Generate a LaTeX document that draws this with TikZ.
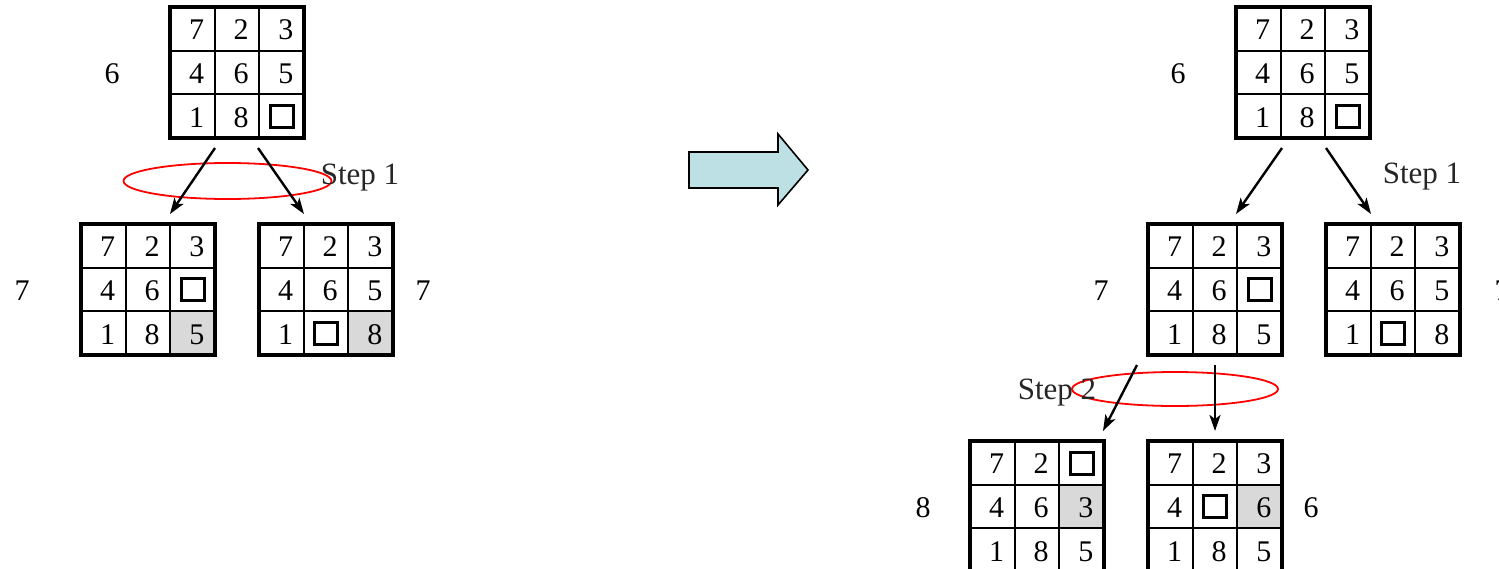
\documentclass[tikz,border=0pt]{standalone}
\usepackage{fontspec}
\setmainfont{Liberation Serif}
\usetikzlibrary{arrows.meta}
\definecolor{cellgray}{RGB}{217,217,217}
\definecolor{bigarrow}{RGB}{188,224,227}
\tikzset{
  boardframe/.style={rectangle, draw=none, minimum width=134pt, minimum height=131pt, inner sep=0pt},
  digit/.style={inner sep=0pt, font=\fontsize{30}{34}\selectfont},
  blank/.style={draw, line width=3pt, minimum width=23pt, minimum height=22pt, inner sep=0pt},
  innerline/.style={line width=2.3pt},
  outerline/.style={line width=3.2pt},
  lbl/.style={inner sep=0pt, anchor=base, font=\fontsize{30}{34}\selectfont},
  steplbl/.style={inner sep=0pt, anchor=base, text=black!85, font=\fontsize{31}{34}\selectfont},
  movearrow/.style={line width=2.4pt, -{Stealth[length=16pt, width=11pt, inset=4pt]}},
  ring/.style={draw=red, line width=1.8pt},
}
\newcommand\board[5]{%
 \begin{scope}[shift={(#2,#3)}]
  \node[boardframe] (#1) at (67,65.5) {};
  \foreach \v [count=\i from 0] in {#4} {
    \pgfmathtruncatemacro\rr{div(\i,3)}
    \pgfmathtruncatemacro\cc{mod(\i,3)}
    \ifnum\i=#5 \fill[cellgray] (\cc*44.67,\rr*43.67) rectangle ++(44.67,43.67); \fi
    \ifnum\v=0
      \node[blank] (#1-\i) at (\cc*44.67+22.5,\rr*43.67+22) {};
    \else
      \node[digit] (#1-\i) at (\cc*44.67+26.5,\rr*43.67+23) {\v};
    \fi
  }
  \draw[innerline] (44.67,0) -- (44.67,131) (89.33,0) -- (89.33,131)
                   (0,43.67) -- (134,43.67) (0,87.33) -- (134,87.33);
  \draw[outerline] (0,0) rectangle (134,131);
 \end{scope}}
\begin{document}
\begin{tikzpicture}[x=1pt, y=-1pt]
\useasboundingbox (0,0) rectangle (1499,568);
\clip (0,0) rectangle (1499,568);
\fill[white] (0,0) rectangle (1499,568);

% ---------- left tree ----------
\draw[ring] (227.5,181) ellipse [x radius=104pt, y radius=18pt];
\board{A}{170}{7}{7,2,3,4,6,5,1,8,0}{-1}
\board{B}{81}{224}{7,2,3,4,6,0,1,8,5}{8}
\board{C}{259}{224}{7,2,3,4,6,5,1,0,8}{8}
\coordinate (a1s) at (215,148); \coordinate (a1e) at (170,214);
\coordinate (a2s) at (258,148); \coordinate (a2e) at (304,214);
\draw[movearrow] (a1s) -- (a1e);
\draw[movearrow] (a2s) -- (a2e);
\node[lbl] (hA) at (112,83) {6};
\node[lbl] (hB) at (22,300) {7};
\node[lbl] (hC) at (423,300) {7};
\node[steplbl] (s1L) at (360,184) {Step 1};

% ---------- big arrow ----------
\draw[line width=1.6pt, fill=bigarrow, line join=miter]
  (689,152) -- (778,152) -- (778,134) -- (808,170) -- (778,205) -- (778,188) -- (689,188) -- cycle;

% ---------- right tree ----------
\draw[ring] (1175,389) ellipse [x radius=103pt, y radius=17pt];
\board{D}{1236}{7}{7,2,3,4,6,5,1,8,0}{-1}
\board{E}{1148}{224}{7,2,3,4,6,0,1,8,5}{-1}
\board{F}{1326}{224}{7,2,3,4,6,5,1,0,8}{-1}
\board{G}{970}{441}{7,2,0,4,6,3,1,8,5}{5}
\board{H}{1148}{441}{7,2,3,4,0,6,1,8,5}{5}
\coordinate (b1s) at (1282,148); \coordinate (b1e) at (1236,214);
\coordinate (b2s) at (1326,148); \coordinate (b2e) at (1371,214);
\coordinate (c1s) at (1137,365); \coordinate (c1e) at (1103,431);
\coordinate (c2s) at (1215,365); \coordinate (c2e) at (1215,431);
\draw[movearrow] (b1s) -- (b1e);
\draw[movearrow] (b2s) -- (b2e);
\draw[movearrow] (c1s) -- (c1e);
\draw[movearrow] (c2s) -- (c2e);
\node[lbl] (hD) at (1178,83) {6};
\node[lbl] (hE) at (1101,300) {7};
\node[lbl] (hF) at (1502,300) {7};
\node[lbl] (hG) at (923,517) {8};
\node[lbl] (hH) at (1311,517) {6};
\node[steplbl] (s1R) at (1422,183) {Step 1};
\node[steplbl] (s2) at (1057,399) {Step 2};
\end{tikzpicture}
\end{document}
